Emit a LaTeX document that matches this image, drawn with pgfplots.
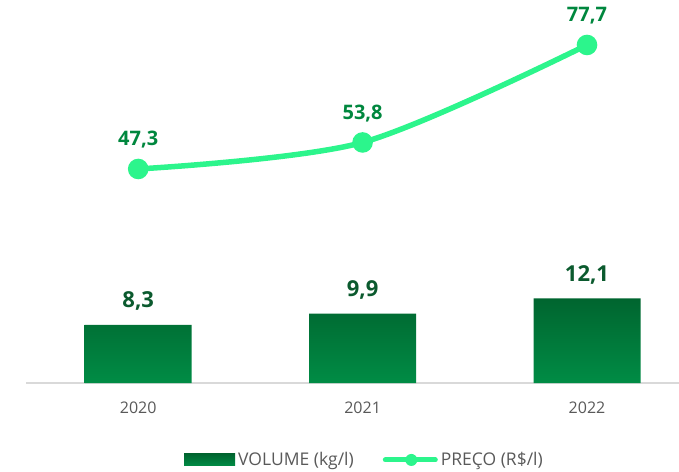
\documentclass[border=0pt]{standalone}
\usepackage{fontspec}
\setmainfont{Open Sans}
\usepackage{pgfplots}
\pgfplotsset{compat=1.18}

\definecolor{bartop}{HTML}{00652F}
\definecolor{barbot}{HTML}{008C45}
\definecolor{barlbl}{HTML}{0B5A2E}
\definecolor{linegreen}{HTML}{2CF58C}
\definecolor{linelbl}{HTML}{00873E}
\definecolor{axisgrey}{HTML}{D9D9D9}
\definecolor{ticktext}{HTML}{595959}

\begin{document}
\begin{tikzpicture}
\clip (0,0) rectangle (679pt,471pt);
\path[use as bounding box] (0,0) rectangle (679pt,471pt);

% bars: VOLUME
\begin{axis}[
  at={(26pt,88pt)}, anchor=south west,
  scale only axis, width=653pt, height=363pt,
  xmin=-0.5, xmax=2.41, ymin=0, ymax=51.86,
  axis x line=bottom, axis y line=none,
  x axis line style={-, draw=axisgrey, line width=1.6pt},
  xtick={0,1,2}, xticklabels={2020,2021,2022},
  major tick length=0pt,
  xticklabel style={font=\fontsize{16}{18}\selectfont, text=ticktext, anchor=base, yshift=-30pt},
  clip=false,
]
\addplot[ybar, bar width=107pt, draw=none, top color=bartop, bottom color=barbot,
  point meta=explicit symbolic,
  nodes near coords, every node near coord/.append style={
    font=\fontsize{22}{24}\selectfont\bfseries, text=barlbl, anchor=base, yshift=17pt, inner sep=0pt}]
  coordinates {(0,8.3) [8,3] (1,9.9) [9,9] (2,12.1) [12,1]};
\end{axis}

% line: PREÇO
\begin{axis}[
  at={(26pt,88pt)}, anchor=south west,
  scale only axis, width=653pt, height=363pt,
  xmin=-0.5, xmax=2.41, ymin=-5.17, ymax=83.82,
  axis lines=none, clip=false,
  legend columns=2,
  legend style={draw=none, fill=none, inner sep=0pt,
    at={(0.242,-0.212)}, anchor=west,
    font=\fontsize{17.5}{19}\selectfont, text=ticktext,
    nodes={inner sep=3pt},
    /tikz/every even column/.append style={column sep=26pt}},
]
\addlegendimage{legend image code/.code={
  \fill[draw=none, top color=bartop, bottom color=barbot] (0pt,-6pt) rectangle (51pt,6pt);}}
\addlegendentry{VOLUME (kg/l)}
\addplot[smooth, color=linegreen, line width=5.5pt, line cap=round,
  mark=*, mark size=7.5pt, mark options={fill=linegreen, draw=none},
  point meta=explicit symbolic,
  nodes near coords, every node near coord/.append style={
    font=\fontsize{20}{22}\selectfont\bfseries, text=linelbl, anchor=base, yshift=23pt, inner sep=0pt},
  legend image code/.code={
    \draw[color=linegreen, line width=5pt, line cap=round] (0pt,0pt) -- (50pt,0pt);
    \fill[linegreen, draw=none] (26pt,0pt) circle (6pt);}]
  coordinates {(0,47.3) [47,3] (1,53.8) [53,8] (2,77.7) [77,7]};
\addlegendentry{PREÇO (R\$/l)}
\end{axis}
\end{tikzpicture}
\end{document}
